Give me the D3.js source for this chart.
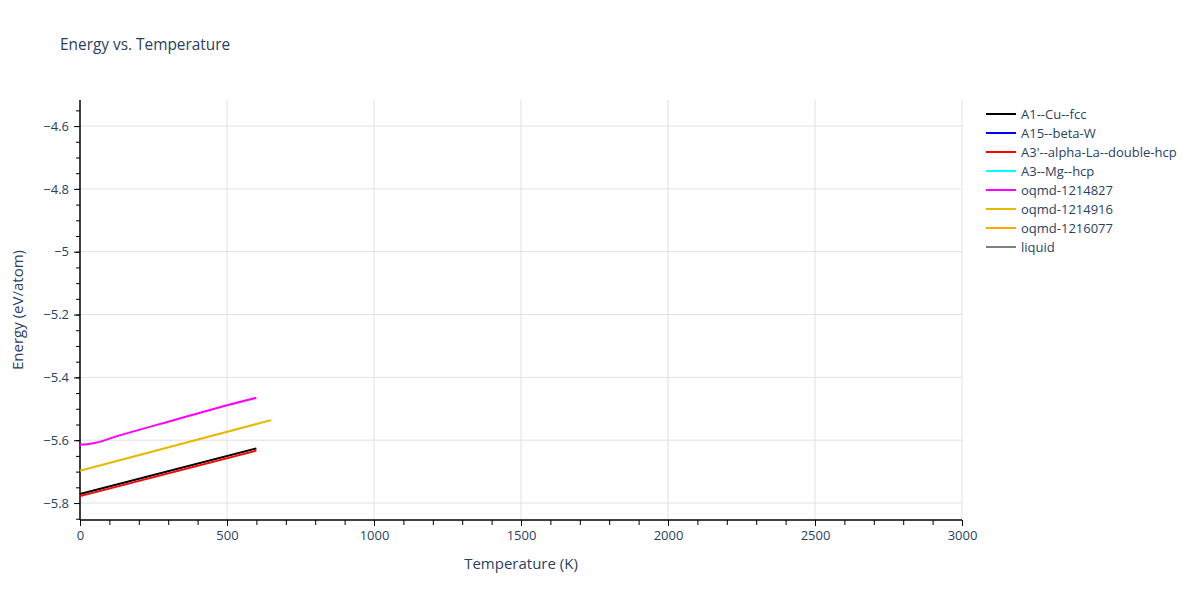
<!DOCTYPE html>
<html>
<head>
<meta charset="utf-8">
<script src="https://cdn.jsdelivr.net/npm/d3@7"></script>
<style>
  body { margin: 0; background: #fff; }
  text { font-family: "Open Sans", verdana, arial, sans-serif; fill: #2a3f5f; }
</style>
</head>
<body>
<div id="chart"></div>
<script>
// series (temperature in K, energy in eV/atom)
var seriesNames = ["A1--Cu--fcc", "A15--beta-W", "A3'--alpha-La--double-hcp", "A3--Mg--hcp",
                   "oqmd-1214827", "oqmd-1214916", "oqmd-1216077", "liquid"];
var seriesColors = ["black", "blue", "red", "cyan", "magenta", "#e6b800", "orange", "gray"];

var cuFccT = [0, 600],        cuFccE = [-5.771, -5.626];
var betaWT = [],              betaWE = [];
var laDhcpT = [0, 600],       laDhcpE = [-5.778, -5.633];
var mgHcpT = [],              mgHcpE = [];
var oqmd827T = [0, 25, 50, 75, 100, 200, 300, 400, 500, 600];
var oqmd827E = [-5.614, -5.613, -5.609, -5.603, -5.595, -5.567, -5.541, -5.515, -5.489, -5.465];
var oqmd916T = [0, 650],      oqmd916E = [-5.697, -5.536];
var oqmd077T = [],            oqmd077E = [];
var liquidT = [],             liquidE = [];

var xTicks = [0, 500, 1000, 1500, 2000, 2500, 3000];
var yTicks = [-5.8, -5.6, -5.4, -5.2, -5, -4.8, -4.6];

var allT = [cuFccT, betaWT, laDhcpT, mgHcpT, oqmd827T, oqmd916T, oqmd077T, liquidT];
var allE = [cuFccE, betaWE, laDhcpE, mgHcpE, oqmd827E, oqmd916E, oqmd077E, liquidE];

var series = seriesNames.map(function(name, i) {
  return {name: name, color: seriesColors[i],
          points: allT[i].map(function(t, j) { return [t, allE[i][j]]; })};
});

var margin = {top: 100, right: 238, bottom: 80, left: 80},
    width = 1200 - margin.left - margin.right,
    height = 600 - margin.top - margin.bottom;

var x = d3.scaleLinear().domain([0, 3000]).range([0, width]);
var y = d3.scaleLinear().domain([-5.854, -4.517]).range([height, 0]);

var svg = d3.select("#chart").append("svg")
    .attr("width", 1200)
    .attr("height", 600);

svg.append("text")
    .attr("x", 60).attr("y", 50)
    .style("font-size", "15.4px")
    .text("Energy vs. Temperature");

var g = svg.append("g")
    .attr("transform", "translate(" + margin.left + "," + margin.top + ")");

// grid
g.selectAll(".xgrid").data(xTicks.filter(function(d) { return d > 0; }))
  .enter().append("line")
    .attr("x1", function(d) { return x(d); }).attr("x2", function(d) { return x(d); })
    .attr("y1", 0).attr("y2", height)
    .attr("stroke", "#e1e1e1").attr("stroke-width", 1);

g.selectAll(".ygrid").data(yTicks)
  .enter().append("line")
    .attr("x1", 0).attr("x2", width)
    .attr("y1", function(d) { return y(d); }).attr("y2", function(d) { return y(d); })
    .attr("stroke", "#e1e1e1").attr("stroke-width", 1);

// minor ticks
var xMinor = d3.range(0, 3001, 100), yMinor = d3.range(-5.85, -4.5, 0.05);

var xAxis = g.append("g")
    .attr("transform", "translate(0," + height + ")")
    .call(d3.axisBottom(x).tickValues(xMinor).tickSize(5).tickFormat(""));
xAxis.append("g")
    .call(d3.axisBottom(x).tickValues(xTicks).tickSize(6).tickPadding(5).tickFormat(d3.format("d")));
xAxis.selectAll("line").attr("stroke", "black");
xAxis.selectAll("text").style("font-size", "13px").attr("fill", "#2a3f5f");

var yAxis = g.append("g")
    .call(d3.axisLeft(y).tickValues(yMinor.filter(function(d) { return d >= -5.854 && d <= -4.517; }))
      .tickSize(4).tickFormat(""));
yAxis.append("g")
    .call(d3.axisLeft(y).tickValues(yTicks).tickSize(6).tickPadding(5)
      .tickFormat(function(d) { return d3.format("")(d).replace("-", "\u2212"); }));
yAxis.selectAll("line").attr("stroke", "black");
yAxis.selectAll("text").style("font-size", "13px").attr("fill", "#2a3f5f");
g.selectAll(".domain").remove();
g.append("line").attr("x1", 0).attr("x2", width).attr("y1", height).attr("y2", height)
    .attr("stroke", "black").attr("stroke-width", 1.5);
g.append("line").attr("x1", 0).attr("x2", 0).attr("y1", 0).attr("y2", height)
    .attr("stroke", "black").attr("stroke-width", 1.5);

// axis titles
svg.append("text")
    .attr("x", margin.left + width / 2).attr("y", 569)
    .attr("text-anchor", "middle")
    .style("font-size", "15px")
    .text("Temperature (K)");

svg.append("text")
    .attr("transform", "translate(23," + (margin.top + height / 2) + ") rotate(-90)")
    .attr("text-anchor", "middle")
    .style("font-size", "15px")
    .text("Energy (eV/atom)");

// lines
var line = d3.line()
    .curve(d3.curveMonotoneX)
    .x(function(d) { return x(d[0]); })
    .y(function(d) { return y(d[1]); });

g.selectAll(".series").data(series)
  .enter().append("path")
    .attr("fill", "none")
    .attr("stroke", function(d) { return d.color; })
    .attr("stroke-width", 2)
    .attr("d", function(d) { return d.points.length ? line(d.points) : null; });

// legend
var legend = svg.append("g").attr("transform", "translate(986,114)");
var items = legend.selectAll("g").data(series)
  .enter().append("g")
    .attr("transform", function(d, i) { return "translate(0," + (i * 19) + ")"; });
items.append("line")
    .attr("x1", 0).attr("x2", 30)
    .attr("stroke", function(d) { return d.color; })
    .attr("stroke-width", 2);
items.append("text")
    .attr("x", 35).attr("y", 4.5)
    .style("font-size", "13px")
    .text(function(d) { return d.name; });
</script>
</body>
</html>
